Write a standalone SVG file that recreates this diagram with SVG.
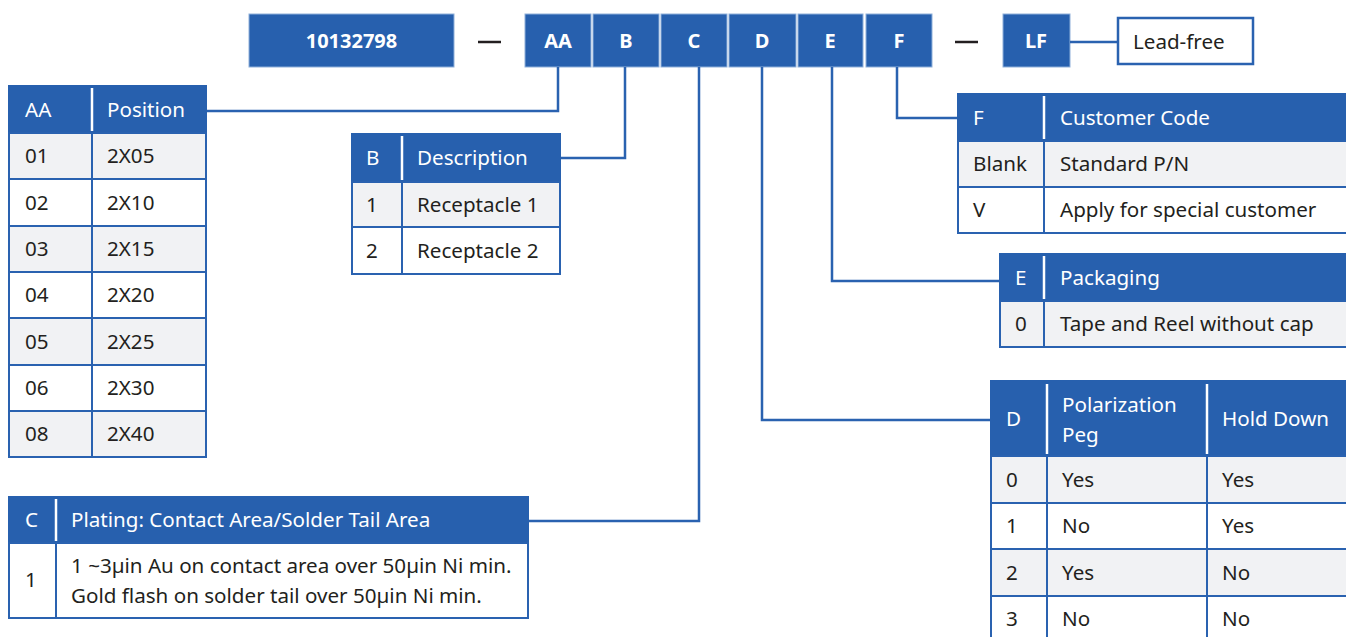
<svg xmlns="http://www.w3.org/2000/svg" width="1346" height="637" viewBox="0 0 1346 637">
<style>
text{font-family:"Noto Sans","Open Sans",sans-serif;font-size:20.6px;fill:#231f20}
.top{fill:#2760ae;stroke:#8fb0da;stroke-width:1}
.tt{fill:#fff;font-weight:bold;text-anchor:middle;font-size:20px}
.hd{fill:#2760ae;stroke:#2760ae;stroke-width:2}
.g{fill:#f1f2f4;stroke:#2a62b0;stroke-width:2}
.w{fill:#fff;stroke:#2a62b0;stroke-width:2}
.wl{stroke:#fff;stroke-width:2.5}
.ht{fill:#fff}
.con{fill:none;stroke:#2a62b0;stroke-width:2.5}
.dash{stroke:#231f20;stroke-width:2.5}
</style>
<g id="partnumber">
<rect class="top" x="249" y="14" width="205" height="53"/><text class="tt" x="351.5" y="48">10132798</text>
<line class="dash" x1="478" y1="42" x2="501" y2="42"/>
<rect class="top" x="525" y="14" width="66" height="53"/><text class="tt" x="558" y="48">AA</text>
<rect class="top" x="593" y="14" width="66" height="53"/><text class="tt" x="626" y="48">B</text>
<rect class="top" x="661" y="14" width="66" height="53"/><text class="tt" x="694" y="48">C</text>
<rect class="top" x="729" y="14" width="67" height="53"/><text class="tt" x="762" y="48">D</text>
<rect class="top" x="798" y="14" width="65" height="53"/><text class="tt" x="830" y="48">E</text>
<rect class="top" x="866" y="14" width="66" height="53"/><text class="tt" x="899" y="48">F</text>
<line class="dash" x1="955" y1="42" x2="978" y2="42"/>
<rect class="top" x="1003" y="14" width="67" height="53"/><text class="tt" x="1036" y="48">LF</text>
</g>
<g id="leadfree">
<rect x="1118" y="18" width="135" height="46" fill="#fff" stroke="#2a62b0" stroke-width="2.5"/>
<text x="1133" y="49">Lead-free</text>
</g>
<g id="connectors">
<path class="con" d="M558 67V111H206"/>
<path class="con" d="M625 67V158H560"/>
<path class="con" d="M699 67V521H528"/>
<path class="con" d="M762 67V420H991"/>
<path class="con" d="M832 67V281H1000"/>
<path class="con" d="M897 67V118H958"/>
<path class="con" d="M1070 42H1118"/>
</g>
<g id="table-AA">
<rect class="hd" x="9" y="86" width="197" height="47"/>
<line class="wl" x1="92" y1="88" x2="92" y2="131"/>
<text class="ht" x="25" y="117">AA</text><text class="ht" x="107" y="117">Position</text>
<rect class="g" x="9" y="133" width="83" height="46"/><rect class="g" x="92" y="133" width="114" height="46"/>
<rect class="w" x="9" y="179" width="83" height="47"/><rect class="w" x="92" y="179" width="114" height="47"/>
<rect class="g" x="9" y="226" width="83" height="46"/><rect class="g" x="92" y="226" width="114" height="46"/>
<rect class="w" x="9" y="272" width="83" height="46"/><rect class="w" x="92" y="272" width="114" height="46"/>
<rect class="g" x="9" y="318" width="83" height="47"/><rect class="g" x="92" y="318" width="114" height="47"/>
<rect class="w" x="9" y="365" width="83" height="46"/><rect class="w" x="92" y="365" width="114" height="46"/>
<rect class="g" x="9" y="411" width="83" height="46"/><rect class="g" x="92" y="411" width="114" height="46"/>
<text x="25" y="163">01</text><text x="107" y="163">2X05</text>
<text x="25" y="210">02</text><text x="107" y="210">2X10</text>
<text x="25" y="256">03</text><text x="107" y="256">2X15</text>
<text x="25" y="302">04</text><text x="107" y="302">2X20</text>
<text x="25" y="349">05</text><text x="107" y="349">2X25</text>
<text x="25" y="395">06</text><text x="107" y="395">2X30</text>
<text x="25" y="441">08</text><text x="107" y="441">2X40</text>
</g>
<g id="table-B">
<rect class="hd" x="352" y="134" width="208" height="48"/>
<line class="wl" x1="402" y1="136" x2="402" y2="180"/>
<text class="ht" x="366" y="165">B</text><text class="ht" x="417" y="165">Description</text>
<rect class="g" x="352" y="182" width="50" height="45"/><rect class="g" x="402" y="182" width="158" height="45"/>
<rect class="w" x="352" y="227" width="50" height="47"/><rect class="w" x="402" y="227" width="158" height="47"/>
<text x="366" y="212">1</text><text x="417" y="212">Receptacle 1</text>
<text x="366" y="258">2</text><text x="417" y="258">Receptacle 2</text>
</g>
<g id="table-F">
<rect class="hd" x="958" y="94" width="392" height="47"/>
<line class="wl" x1="1044" y1="96" x2="1044" y2="139"/>
<text class="ht" x="973" y="125">F</text><text class="ht" x="1060" y="125">Customer Code</text>
<rect class="g" x="958" y="141" width="86" height="46"/><rect class="g" x="1044" y="141" width="306" height="46"/>
<rect class="w" x="958" y="187" width="86" height="46"/><rect class="w" x="1044" y="187" width="306" height="46"/>
<text x="973" y="171">Blank</text><text x="1060" y="171">Standard P/N</text>
<text x="973" y="217">V</text><text x="1060" y="217">Apply for special customer</text>
</g>
<g id="table-E">
<rect class="hd" x="1000" y="254" width="350" height="47"/>
<line class="wl" x1="1044" y1="256" x2="1044" y2="299"/>
<text class="ht" x="1015" y="285">E</text><text class="ht" x="1060" y="285">Packaging</text>
<rect class="g" x="1000" y="301" width="44" height="46"/><rect class="g" x="1044" y="301" width="306" height="46"/>
<text x="1015" y="331">0</text><text x="1060" y="331">Tape and Reel without cap</text>
</g>
<g id="table-D">
<rect class="hd" x="991" y="381" width="359" height="75"/>
<line class="wl" x1="1047" y1="384" x2="1047" y2="454"/>
<line class="wl" x1="1207" y1="384" x2="1207" y2="454"/>
<text class="ht" x="1006" y="426">D</text>
<text class="ht" x="1062" y="412">Polarization</text><text class="ht" x="1062" y="442">Peg</text>
<text class="ht" x="1222" y="426">Hold Down</text>
<rect class="g" x="991" y="456" width="56" height="47"/><rect class="g" x="1047" y="456" width="160" height="47"/><rect class="g" x="1207" y="456" width="143" height="47"/>
<rect class="w" x="991" y="503" width="56" height="46"/><rect class="w" x="1047" y="503" width="160" height="46"/><rect class="w" x="1207" y="503" width="143" height="46"/>
<rect class="g" x="991" y="549" width="56" height="47"/><rect class="g" x="1047" y="549" width="160" height="47"/><rect class="g" x="1207" y="549" width="143" height="47"/>
<rect class="w" x="991" y="596" width="56" height="46"/><rect class="w" x="1047" y="596" width="160" height="46"/><rect class="w" x="1207" y="596" width="143" height="46"/>
<text x="1006" y="487">0</text><text x="1062" y="487">Yes</text><text x="1222" y="487">Yes</text>
<text x="1006" y="533">1</text><text x="1062" y="533">No</text><text x="1222" y="533">Yes</text>
<text x="1006" y="580">2</text><text x="1062" y="580">Yes</text><text x="1222" y="580">No</text>
<text x="1006" y="626">3</text><text x="1062" y="626">No</text><text x="1222" y="626">No</text>
</g>
<g id="table-C">
<rect class="hd" x="9" y="497" width="519" height="46"/>
<line class="wl" x1="56" y1="499" x2="56" y2="541"/>
<text class="ht" x="25" y="527">C</text><text class="ht" x="71" y="527">Plating: Contact Area/Solder Tail Area</text>
<rect class="w" x="9" y="543" width="47" height="75"/><rect class="w" x="56" y="543" width="472" height="75"/>
<text x="25" y="587">1</text>
<text x="71" y="573">1 ~3µin Au on contact area over 50µin Ni min.</text>
<text x="71" y="603">Gold flash on solder tail over 50µin Ni min.</text>
</g>
</svg>
